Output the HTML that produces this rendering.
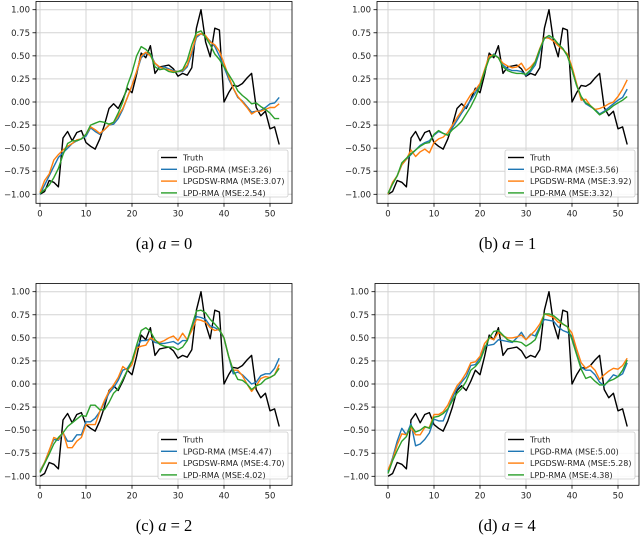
<!DOCTYPE html>
<html><head><meta charset="utf-8"><style>
html,body{margin:0;padding:0;background:#fff;}
svg{display:block;font-family:"DejaVu Sans","Liberation Sans",sans-serif;}
.cap{font-family:"Liberation Serif",serif;font-size:16.5px;}
</style></head><body>
<svg id="fig" width="640" height="535" viewBox="0 0 640 535"></svg>
<script>
const xs = Array.from({length:53},(_,i)=>i);
const truth = [-1.00,-0.97,-0.85,-0.87,-0.92,-0.39,-0.32,-0.42,-0.33,-0.31,-0.44,-0.48,-0.51,-0.40,-0.25,-0.07,-0.02,-0.07,0.03,0.15,0.10,0.30,0.53,0.48,0.61,0.31,0.38,0.39,0.40,0.36,0.28,0.31,0.29,0.37,0.80,1.00,0.65,0.49,0.80,0.78,0.00,0.10,0.18,0.17,0.20,0.26,0.31,-0.06,-0.15,-0.10,-0.29,-0.27,-0.46];
const aBlue = [-1,-0.9,-0.8,-0.7,-0.6,-0.55,-0.5,-0.45,-0.42,-0.40,-0.37,-0.28,-0.32,-0.35,-0.30,-0.25,-0.24,-0.18,-0.08,0.05,0.18,0.32,0.48,0.53,0.52,0.42,0.37,0.38,0.36,0.34,0.33,0.33,0.38,0.52,0.70,0.74,0.71,0.66,0.60,0.50,0.38,0.25,0.15,0.05,0.01,-0.05,-0.11,-0.10,-0.09,-0.06,-0.02,-0.01,0.05];
const aOrange = [-0.98,-0.85,-0.78,-0.63,-0.57,-0.52,-0.48,-0.45,-0.41,-0.40,-0.35,-0.27,-0.30,-0.34,-0.30,-0.25,-0.22,-0.15,-0.07,0.05,0.18,0.33,0.50,0.54,0.50,0.42,0.38,0.36,0.35,0.33,0.33,0.34,0.40,0.55,0.72,0.74,0.72,0.65,0.62,0.55,0.42,0.28,0.15,0.06,0.00,-0.06,-0.13,-0.10,-0.10,-0.08,-0.06,-0.06,-0.02];
const aGreen = [-0.99,-0.95,-0.90,-0.82,-0.72,-0.57,-0.45,-0.42,-0.42,-0.40,-0.35,-0.25,-0.23,-0.21,-0.22,-0.24,-0.22,-0.12,0.00,0.18,0.32,0.50,0.60,0.57,0.52,0.38,0.35,0.36,0.33,0.32,0.33,0.35,0.45,0.62,0.75,0.77,0.70,0.62,0.52,0.46,0.38,0.30,0.22,0.12,0.07,0.03,-0.02,-0.01,-0.05,-0.08,-0.12,-0.18,-0.18];
const bBlue = [-1,-0.88,-0.80,-0.68,-0.62,-0.57,-0.52,-0.47,-0.44,-0.42,-0.36,-0.32,-0.34,-0.36,-0.28,-0.20,-0.12,-0.05,0.02,0.10,0.20,0.33,0.48,0.52,0.48,0.40,0.36,0.34,0.34,0.33,0.29,0.33,0.40,0.55,0.69,0.70,0.66,0.62,0.58,0.50,0.35,0.18,0.05,-0.02,-0.05,-0.08,-0.13,-0.10,-0.06,-0.02,0.02,0.05,0.14];
const bOrange = [-1,-0.87,-0.80,-0.68,-0.62,-0.52,-0.59,-0.54,-0.51,-0.55,-0.44,-0.40,-0.38,-0.33,-0.25,-0.17,-0.10,0.00,0.08,0.13,0.20,0.35,0.50,0.51,0.48,0.42,0.39,0.37,0.38,0.42,0.34,0.38,0.44,0.58,0.70,0.69,0.66,0.61,0.57,0.52,0.38,0.20,0.02,0.03,-0.04,-0.08,-0.07,-0.05,-0.02,0.00,0.06,0.14,0.24];
const bGreen = [-0.99,-0.89,-0.80,-0.66,-0.61,-0.56,-0.52,-0.48,-0.45,-0.44,-0.35,-0.31,-0.34,-0.36,-0.30,-0.26,-0.21,-0.13,-0.05,0.05,0.17,0.33,0.47,0.51,0.48,0.38,0.34,0.32,0.31,0.31,0.30,0.35,0.43,0.57,0.69,0.72,0.69,0.63,0.58,0.50,0.35,0.18,0.06,-0.01,-0.04,-0.09,-0.14,-0.11,-0.08,-0.04,-0.01,0.02,0.06];
const cBlue = [-0.94,-0.85,-0.72,-0.60,-0.61,-0.53,-0.62,-0.62,-0.55,-0.55,-0.41,-0.41,-0.37,-0.30,-0.20,-0.10,-0.04,0.04,0.15,0.17,0.25,0.40,0.47,0.47,0.49,0.45,0.44,0.44,0.45,0.46,0.43,0.47,0.47,0.60,0.73,0.72,0.70,0.63,0.61,0.58,0.50,0.30,0.11,0.13,0.10,0.05,0.00,0.02,0.09,0.11,0.11,0.17,0.28];
const cOrange = [-0.95,-0.85,-0.72,-0.58,-0.60,-0.52,-0.69,-0.69,-0.62,-0.58,-0.44,-0.44,-0.44,-0.30,-0.18,-0.08,-0.01,0.07,0.19,0.15,0.21,0.39,0.41,0.42,0.50,0.47,0.45,0.47,0.50,0.52,0.47,0.55,0.48,0.58,0.70,0.69,0.67,0.61,0.58,0.59,0.50,0.30,0.15,0.15,0.09,0.00,-0.08,-0.02,0.06,0.08,0.07,0.10,0.21];
const cGreen = [-0.96,-0.86,-0.76,-0.65,-0.58,-0.53,-0.46,-0.42,-0.38,-0.34,-0.35,-0.23,-0.23,-0.28,-0.28,-0.20,-0.10,-0.05,0.05,0.15,0.25,0.42,0.58,0.61,0.57,0.48,0.43,0.41,0.40,0.40,0.37,0.40,0.47,0.63,0.79,0.80,0.77,0.70,0.65,0.59,0.50,0.30,0.15,0.05,0.04,0.00,-0.06,-0.02,0.00,0.05,0.07,0.10,0.17];
const dBlue = [-0.95,-0.80,-0.62,-0.48,-0.55,-0.43,-0.67,-0.65,-0.60,-0.53,-0.38,-0.40,-0.40,-0.28,-0.15,-0.05,0.02,0.08,0.20,0.21,0.28,0.41,0.42,0.43,0.48,0.47,0.46,0.45,0.50,0.56,0.48,0.54,0.52,0.62,0.70,0.69,0.68,0.62,0.58,0.56,0.52,0.33,0.18,0.15,0.15,0.10,0.02,-0.02,0.04,0.10,0.08,0.11,0.23];
const dOrange = [-0.93,-0.82,-0.66,-0.54,-0.55,-0.47,-0.55,-0.55,-0.47,-0.47,-0.33,-0.33,-0.30,-0.23,-0.12,-0.02,0.04,0.12,0.23,0.24,0.30,0.44,0.50,0.48,0.56,0.52,0.50,0.50,0.51,0.53,0.48,0.53,0.58,0.65,0.76,0.74,0.72,0.67,0.65,0.62,0.55,0.38,0.23,0.17,0.20,0.15,0.05,0.10,0.14,0.17,0.16,0.20,0.28];
const dGreen = [-0.97,-0.83,-0.72,-0.62,-0.57,-0.45,-0.52,-0.50,-0.46,-0.48,-0.36,-0.35,-0.32,-0.27,-0.18,-0.10,-0.05,0.03,0.15,0.19,0.25,0.38,0.50,0.57,0.58,0.53,0.48,0.46,0.46,0.45,0.41,0.44,0.48,0.60,0.76,0.76,0.74,0.70,0.65,0.62,0.48,0.32,0.16,0.06,0.08,0.03,-0.01,-0.01,0.03,0.05,0.08,0.15,0.26];
const xTicks = [0,10,20,30,40,50];
const yTicks = [-1,-0.75,-0.5,-0.25,0,0.25,0.5,0.75,1];
const yTickLabels = ["\u22121.00","\u22120.75","\u22120.50","\u22120.25","0.00","0.25","0.50","0.75","1.00"];
const legendNames = ["Truth","LPGD-RMA","LPGDSW-RMA","LPD-RMA"];
const mseA = ["3.26","3.07","2.54"], mseB = ["3.56","3.92","3.32"], mseC = ["4.47","4.70","4.02"], mseD = ["5.00","5.28","4.38"];
const colors = ["#000000","#1f77b4","#ff7f0e","#2ca02c"];

const NS="http://www.w3.org/2000/svg";
const fig=document.getElementById('fig');
function mk(tag,attrs,parent){const e=document.createElementNS(NS,tag);for(const k in attrs)e.setAttribute(k,attrs[k]);(parent||fig).appendChild(e);return e;}

const panels=[
 {key:'a',ox:0,oy:0,label:'a',aval:'0',series:[truth,aBlue,aOrange,aGreen],mse:mseA,fl:36,fr:292,lx:158},
 {key:'b',ox:348,oy:0,label:'b',aval:'1',series:[truth,bBlue,bOrange,bGreen],mse:mseB,fl:377,fr:638,lx:505},
 {key:'c',ox:0,oy:282,label:'c',aval:'2',series:[truth,cBlue,cOrange,cGreen],mse:mseC,fl:36,fr:292,lx:158},
 {key:'d',ox:348,oy:282,label:'d',aval:'4',series:[truth,dBlue,dOrange,dGreen],mse:mseD,fl:375,fr:639,lx:505}
];
panels.forEach(p=>{
 const g=mk('g',{});
 
 
 const X=v=>40+p.ox+4.6*v;
 const Y=v=>p.oy+194.3-(v+1)*92.3;
 const top=p.oy+1.5,bot=p.oy+203.3;
 xTicks.forEach(t=>{
  mk('line',{x1:X(t),x2:X(t),y1:top,y2:bot,stroke:'#d4d4d4','stroke-width':1},g);
  mk('line',{x1:X(t),x2:X(t),y1:bot,y2:bot+3.5,stroke:'#000','stroke-width':0.8},g);
  const tx=mk('text',{x:X(t),y:bot+13,'font-size':8.5,'text-anchor':'middle',fill:'#222'},g);
  tx.textContent=t;
  
  
 });
 yTicks.forEach((t,i)=>{
  mk('line',{x1:p.fl,x2:p.fr,y1:Y(t),y2:Y(t),stroke:'#d4d4d4','stroke-width':1},g);
  mk('line',{x1:p.fl-3.5,x2:p.fl,y1:Y(t),y2:Y(t),stroke:'#000','stroke-width':0.8},g);
  const tx=mk('text',{x:p.fl-6,y:Y(t)+3,'font-size':8.5,'text-anchor':'end',fill:'#222'},g);
  tx.textContent=yTickLabels[i];
  
  
 });
 p.series.forEach((s,k)=>{
  const d=s.map((v,i)=>(i?'L':'M')+X(xs[i]).toFixed(1)+' '+Y(v).toFixed(1)).join(' ');
  const path=mk('path',{d:d,fill:'none',stroke:colors[k],'stroke-width':1.4,'stroke-linejoin':'round'},g);
  
  
 });
 mk('rect',{x:p.fl,y:top,width:p.fr-p.fl,height:bot-top,fill:'none',stroke:'#000','stroke-width':0.8},g);
 const lg=mk('g',{},g);
 
 
 const ly=p.oy+150;
 mk('rect',{x:p.lx,y:ly,width:130,height:47,rx:2,fill:'#fff','fill-opacity':0.85,stroke:'#ccc','stroke-width':0.8},lg);
 legendNames.forEach((n,k)=>{
  const yy=ly+7.5+k*11.8;
  mk('line',{x1:p.lx+3,x2:p.lx+19,y1:yy,y2:yy,stroke:colors[k],'stroke-width':1.4},lg);
  const tx=mk('text',{x:p.lx+25,y:yy+3,'font-size':8,fill:'#222'},lg);
  tx.textContent=k?n+' (MSE:'+p.mse[k-1]+')':n;
  
  
 });
 const cx=(p.fl+p.fr)/2;
 const cap=mk('text',{x:cx,y:p.oy+249,'text-anchor':'middle',class:'cap',fill:'#000'},g);
 cap.innerHTML='('+p.label+') <tspan font-style="italic">a</tspan> = '+p.aval;
 
 
});
</script>
</body></html>
